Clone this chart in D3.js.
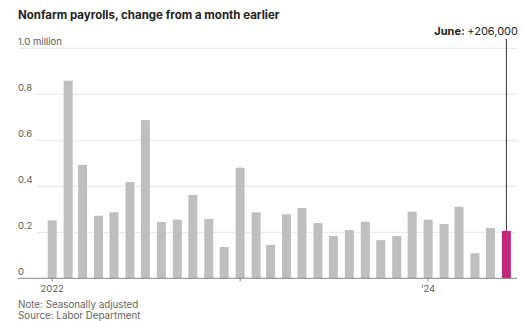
<!DOCTYPE html>
<html>
<head>
<meta charset="utf-8">
<script src="https://cdn.jsdelivr.net/npm/d3@7"></script>
<style>
  body { margin: 0; background: #fff; }
  svg { display: block; font-family: "Inter", "Lato", sans-serif; }
</style>
</head>
<body>
<div id="chart"></div>
<script>
// monthly change in nonfarm payrolls, millions, Jan 2022 .. Jun 2024
const months = d3.timeMonths(new Date(2022, 0, 1), new Date(2024, 6, 1));
const values = [
  0.252, 0.859, 0.493, 0.272, 0.287, 0.419, 0.688, 0.245, 0.255, 0.362, 0.258, 0.136,
  0.481, 0.287, 0.145, 0.278, 0.306, 0.240, 0.184, 0.210, 0.246, 0.166, 0.184, 0.290,
  0.255, 0.236, 0.311, 0.109, 0.219, 0.206
];
const yTicks = [0, 0.2, 0.4, 0.6, 0.8, 1.0];
const xTicks = [new Date(2022, 0, 1), new Date(2023, 0, 1), new Date(2024, 0, 1)];
const xTickLabels = ["2022", "", "\u201924"];

const width = 526, height = 321;
const svg = d3.select("#chart").append("svg")
  .attr("width", width).attr("height", height);

const x = d3.scaleTime()
  .domain([new Date(2022, 0, 1), new Date(2024, 5, 1)])
  .range([52.2, 506.4]);
const y = d3.scaleLinear().domain([0, 1]).range([278.3, 48.3]);
const barW = 9;

// title
svg.append("text")
  .attr("x", 18).attr("y", 19)
  .attr("font-size", 11.5).attr("font-weight", 700).attr("fill", "#222")
  .text("Nonfarm payrolls, change from a month earlier");

// gridlines
svg.append("g").selectAll("line")
  .data(yTicks.filter(d => d > 0))
  .join("line")
  .attr("x1", d => d === 1 ? 18 : 35).attr("x2", 518)
  .attr("y1", d => y(d)).attr("y2", d => y(d))
  .attr("stroke", "#e6e6e6").attr("stroke-width", 1);

// y labels
svg.append("g").selectAll("text")
  .data(yTicks)
  .join("text")
  .attr("x", 18).attr("y", d => y(d) - 3)
  .attr("font-size", 9.5).attr("fill", "#5a5a5a")
  .text(d => d === 0 ? "0" : d === 1 ? "1.0 million" : d.toFixed(1));

// bars
const last = values.length - 1;
svg.append("g").selectAll("rect")
  .data(values)
  .join("rect")
  .attr("x", (d, i) => x(months[i]) - barW / 2)
  .attr("width", barW)
  .attr("y", d => y(d))
  .attr("height", d => y(0) - y(d))
  .attr("fill", (d, i) => i === last ? "#c1287b" : "#bfbfbf");

// x axis
const xAxis = svg.append("g").attr("transform", `translate(0,${y(0)})`);
xAxis.append("line")
  .attr("x1", 18).attr("x2", 517)
  .attr("stroke", "#888").attr("stroke-width", 1);
xAxis.selectAll(".tick")
  .data(xTicks)
  .join("line")
  .attr("x1", d => x(d)).attr("x2", d => x(d))
  .attr("y1", 0).attr("y2", 3)
  .attr("stroke", "#888");
xAxis.selectAll("text")
  .data(xTicks)
  .join("text")
  .attr("x", d => x(d)).attr("y", 14)
  .attr("text-anchor", "middle")
  .attr("font-size", 9.5).attr("fill", "#5a5a5a")
  .text((d, i) => xTickLabels[i]);

// annotation for latest month
const lx = x(months[last]);
svg.append("line")
  .attr("x1", lx).attr("x2", lx)
  .attr("y1", 39).attr("y2", y(values[last]))
  .attr("stroke", "#333").attr("stroke-width", 1);
const ann = svg.append("text")
  .attr("x", 518).attr("y", 35)
  .attr("text-anchor", "end")
  .attr("font-size", 11).attr("fill", "#222");
ann.append("tspan").attr("font-weight", 700).text("June: ");
ann.append("tspan").text("+" + d3.format(",")(Math.round(values[last] * 1e6)));

// footer
svg.append("text")
  .attr("x", 18).attr("y", 308)
  .attr("font-size", 9.8).attr("fill", "#666")
  .text("Note: Seasonally adjusted");
svg.append("text")
  .attr("x", 18).attr("y", 318.5)
  .attr("font-size", 9.8).attr("fill", "#666")
  .text("Source: Labor Department");
</script>
</body>
</html>
